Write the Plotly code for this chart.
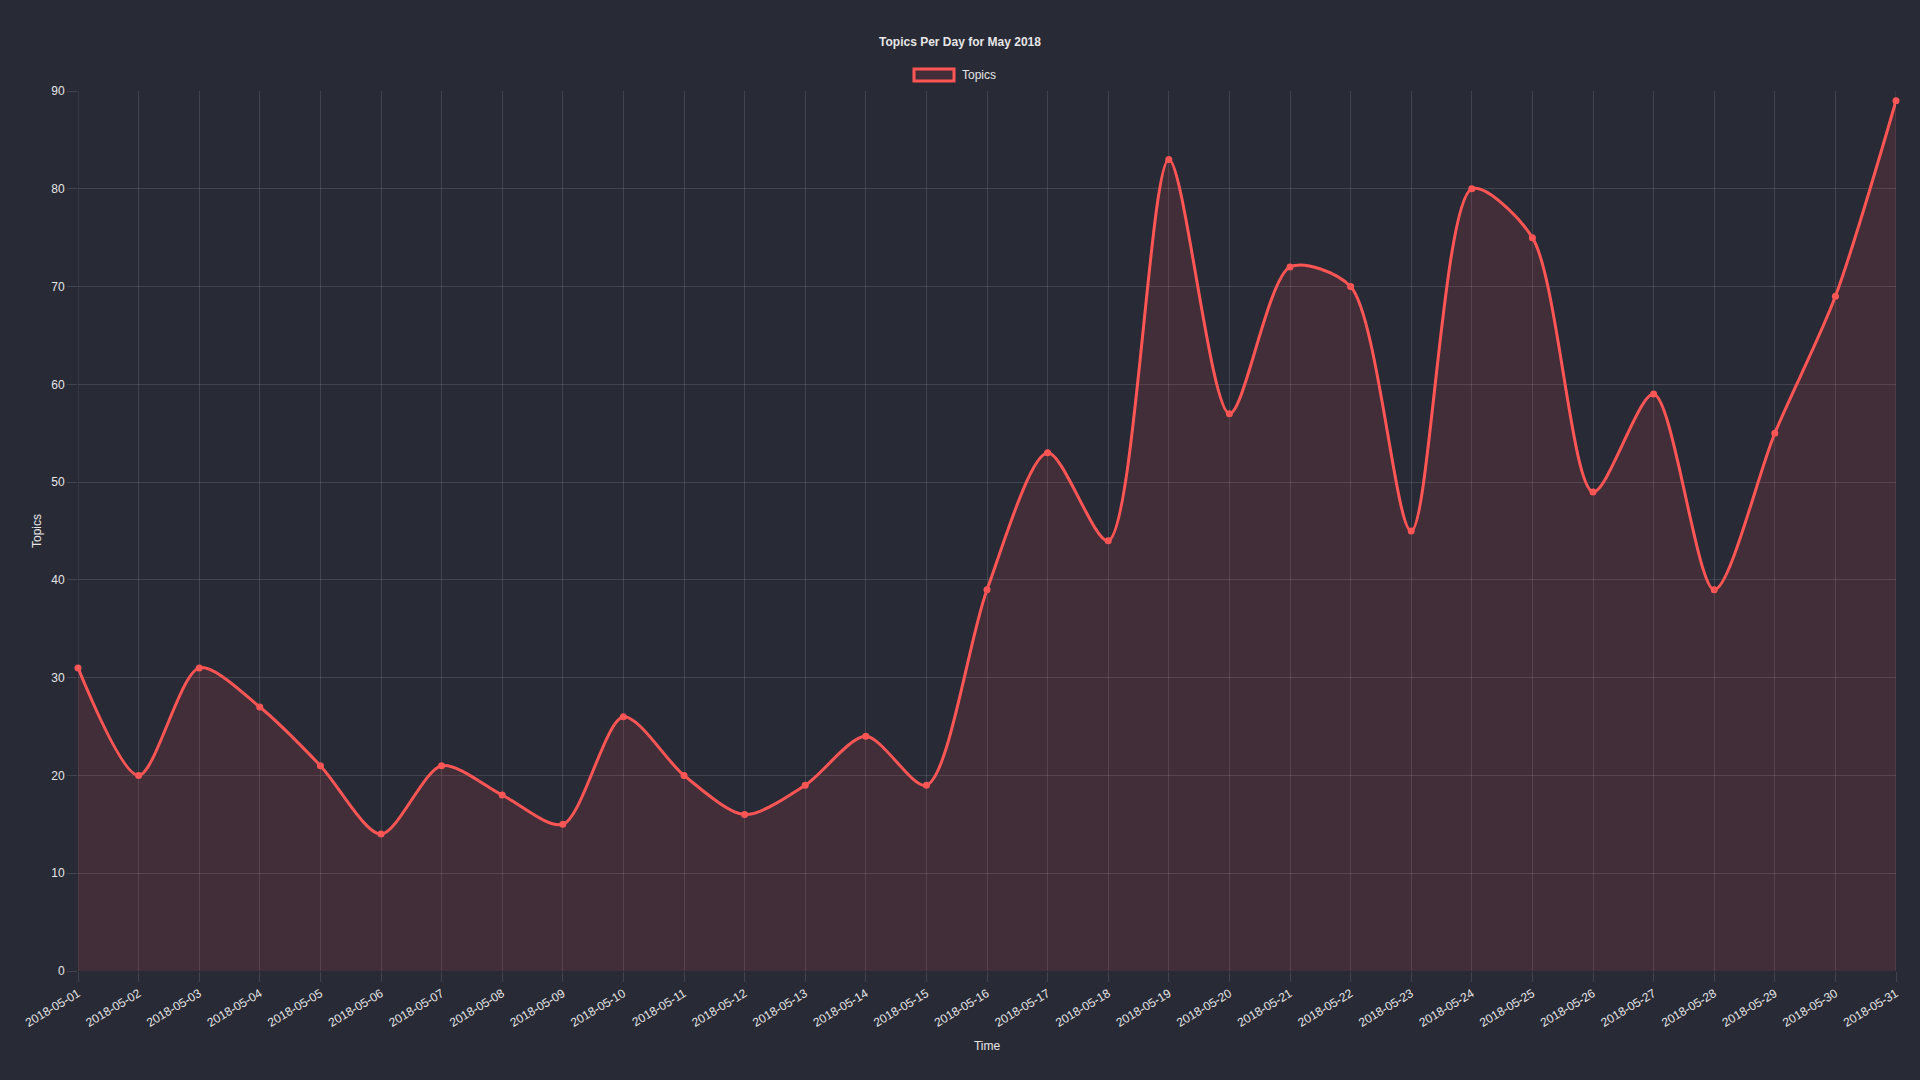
import plotly.graph_objects as go

dates = ["2018-05-%02d" % d for d in range(1, 32)]
topics = [31, 20, 31, 27, 21, 14, 21, 18, 15, 26, 20, 16, 19, 24, 19,
          39, 53, 44, 83, 57, 72, 70, 45, 80, 75, 49, 59, 39, 55, 69, 89]
y_ticks = [0, 10, 20, 30, 40, 50, 60, 70, 80, 90]

BG = "#282a36"
RED = "#ff5555"
GRID = "rgba(255,255,255,0.12)"
TXT = "#e6e6e6"
FONT = "Liberation Sans, Arial, sans-serif"

x_idx = list(range(len(dates)))

fig = go.Figure()
fig.add_trace(go.Scatter(
    x=x_idx, y=topics, mode="lines+markers", name="Topics",
    line=dict(color=RED, width=3, shape="spline", smoothing=0.8),
    marker=dict(color=RED, size=7),
    fill="tozeroy", fillcolor="rgba(255,85,85,0.12)",
    showlegend=False, hoverinfo="x+y", cliponaxis=False,
))

fig.update_layout(
    width=1920, height=1080,
    paper_bgcolor=BG, plot_bgcolor=BG,
    margin=dict(l=78, r=24, t=91, b=109),
    font=dict(family=FONT, size=12, color=TXT),
    title=dict(text="<b>Topics Per Day for May 2018</b>", x=0.5, xanchor="center",
               y=1 - 42 / 1080, yanchor="middle", font=dict(size=12, color=TXT)),
    xaxis=dict(
        range=[0, 30], tickvals=x_idx, ticktext=dates, tickangle=-31,
        showgrid=True, gridcolor=GRID, gridwidth=1, zeroline=False,
        showline=False, ticks="outside", ticklen=10, tickcolor=GRID,
        tickfont=dict(size=12, color=TXT),
        title=dict(text="Time", font=dict(size=12, color=TXT), standoff=12),
    ),
    yaxis=dict(
        range=[0, 90], tickvals=y_ticks, showgrid=True, gridcolor=GRID, gridwidth=1,
        zeroline=False, showline=False, ticks="outside", ticklen=10, tickcolor=GRID,
        tickfont=dict(size=12, color=TXT),
        title=dict(text="Topics", font=dict(size=12, color=TXT), standoff=7),
    ),
    shapes=[
        dict(type="line", xref="x", yref="paper", x0=0, x1=0, y0=0, y1=1,
             line=dict(color=GRID, width=1)),
        dict(type="line", xref="x", yref="paper", x0=30, x1=30, y0=0, y1=1,
             line=dict(color=GRID, width=1)),
        dict(type="rect", xref="paper", yref="paper",
             x0=(914 - 78) / 1818, x1=(954 - 78) / 1818,
             y0=(971 - 81) / 880, y1=(971 - 69) / 880,
             line=dict(color=RED, width=3), fillcolor="rgba(255,85,85,0.12)"),
    ],
    annotations=[
        dict(text="Topics", xref="paper", yref="paper",
             x=(960 - 78) / 1818, y=(971 - 75) / 880, xanchor="left", yanchor="middle",
             showarrow=False, font=dict(size=12, color=TXT)),
    ],
)

fig.write_html("out.html")
